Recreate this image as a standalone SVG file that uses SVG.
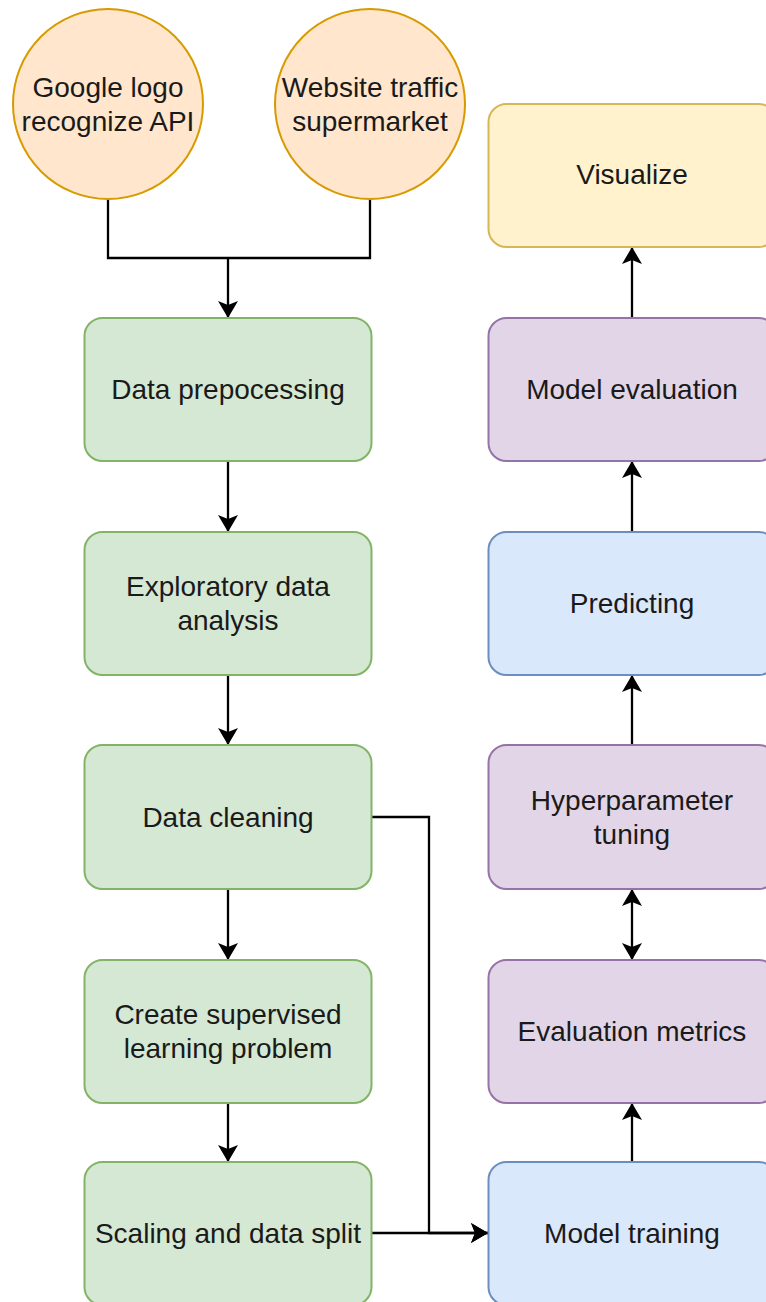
<svg xmlns="http://www.w3.org/2000/svg" width="766" height="1302" viewBox="0 0 766 1302">
<style>
  text { font-family: "Liberation Sans", Arial, Helvetica, sans-serif; font-size: 28px; fill: #1a1a1a; text-anchor: middle; }
  .green { fill: #d5e8d4; stroke: #82b366; stroke-width: 2; }
  .orange { fill: #ffe6cc; stroke: #d79b00; stroke-width: 2; }
  .yellow { fill: #fff2cc; stroke: #d6b656; stroke-width: 2; }
  .purple { fill: #e1d5e7; stroke: #9673a6; stroke-width: 2; }
  .blue { fill: #dae8fc; stroke: #6c8ebf; stroke-width: 2; }
  .edge { fill: none; stroke: #000; stroke-width: 2.3; }
</style>
<defs>
  <marker id="arrow" viewBox="0 0 19 22" markerUnits="userSpaceOnUse" markerWidth="19" markerHeight="22" refX="18" refY="11" orient="auto-start-reverse">
    <path d="M1,1 L18,11 L1,21 L5,11 z" fill="#000"/>
  </marker>
</defs>

<g id="connectors">
  <path class="edge" d="M108,200 V258 H370 V200"/>
  <path class="edge" d="M228,258 V318" marker-end="url(#arrow)"/>
  <path class="edge" d="M228,461 V532" marker-end="url(#arrow)"/>
  <path class="edge" d="M228,675 V745" marker-end="url(#arrow)"/>
  <path class="edge" d="M228,889 V960" marker-end="url(#arrow)"/>
  <path class="edge" d="M228,1103 V1162" marker-end="url(#arrow)"/>
  <path class="edge" d="M371,817 H429 V1233 H488" marker-end="url(#arrow)"/>
  <path class="edge" d="M371,1233 H488" marker-end="url(#arrow)"/>
  <path class="edge" d="M632,1162 V1103" marker-end="url(#arrow)"/>
  <path class="edge" d="M632,960 V889" marker-start="url(#arrow)" marker-end="url(#arrow)"/>
  <path class="edge" d="M632,745 V675" marker-end="url(#arrow)"/>
  <path class="edge" d="M632,532 V461" marker-end="url(#arrow)"/>
  <path class="edge" d="M632,318 V247" marker-end="url(#arrow)"/>
</g>

<g id="google">
  <circle class="orange" cx="108" cy="104" r="95"/>
  <text x="108" y="97">Google logo</text>
  <text x="108" y="131">recognize API</text>
</g>
<g id="website">
  <circle class="orange" cx="370" cy="104" r="95"/>
  <text x="370" y="97">Website traffic</text>
  <text x="370" y="131">supermarket</text>
</g>

<g id="data-prepocessing">
  <rect class="green" x="84.5" y="318" width="287" height="143" rx="18"/>
  <text x="228" y="399">Data prepocessing</text>
</g>
<g id="eda">
  <rect class="green" x="84.5" y="532" width="287" height="143" rx="18"/>
  <text x="228" y="596">Exploratory data</text>
  <text x="228" y="630">analysis</text>
</g>
<g id="data-cleaning">
  <rect class="green" x="84.5" y="745" width="287" height="144" rx="18"/>
  <text x="228" y="827">Data cleaning</text>
</g>
<g id="supervised">
  <rect class="green" x="84.5" y="960" width="287" height="143" rx="18"/>
  <text x="228" y="1024">Create supervised</text>
  <text x="228" y="1058">learning problem</text>
</g>
<g id="scaling">
  <rect class="green" x="84.5" y="1162" width="287" height="143" rx="18"/>
  <text x="228" y="1243">Scaling and data split</text>
</g>

<g id="visualize">
  <rect class="yellow" x="488.5" y="104" width="288" height="143" rx="18"/>
  <text x="632" y="184">Visualize</text>
</g>
<g id="model-evaluation">
  <rect class="purple" x="488.5" y="318" width="288" height="143" rx="18"/>
  <text x="632" y="399">Model evaluation</text>
</g>
<g id="predicting">
  <rect class="blue" x="488.5" y="532" width="288" height="143" rx="18"/>
  <text x="632" y="613">Predicting</text>
</g>
<g id="hyperparameter">
  <rect class="purple" x="488.5" y="745" width="288" height="144" rx="18"/>
  <text x="632" y="810">Hyperparameter</text>
  <text x="632" y="844">tuning</text>
</g>
<g id="evaluation-metrics">
  <rect class="purple" x="488.5" y="960" width="288" height="143" rx="18"/>
  <text x="632" y="1041">Evaluation metrics</text>
</g>
<g id="model-training">
  <rect class="blue" x="488.5" y="1162" width="288" height="143" rx="18"/>
  <text x="632" y="1243">Model training</text>
</g>
</svg>
